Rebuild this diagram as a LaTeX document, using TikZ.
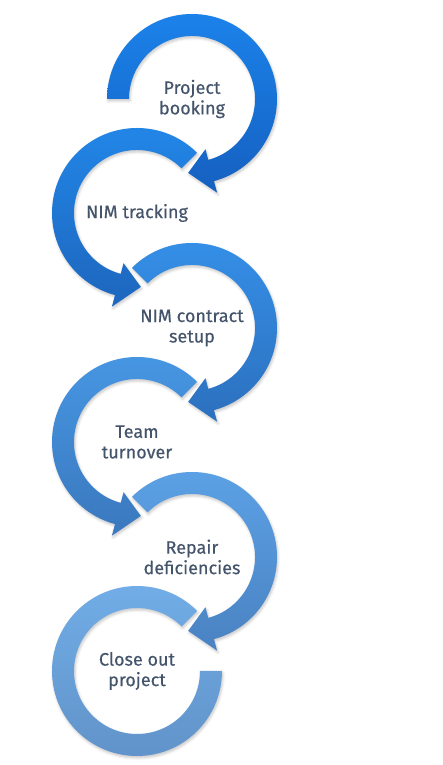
\documentclass[tikz,border=0pt]{standalone}
\usepackage{fontspec}
\setmainfont[FakeBold=0.4]{Fira Sans}
\usetikzlibrary{calc,shadows.blur}
\definecolor{textgray}{HTML}{44546A}
\definecolor{ringtopA}{HTML}{1B82EA}\definecolor{ringbotA}{HTML}{1560C0}
\definecolor{ringtopB}{HTML}{2287E8}\definecolor{ringbotB}{HTML}{1D66BE}
\definecolor{ringtopC}{HTML}{3590E8}\definecolor{ringbotC}{HTML}{2C70BE}
\definecolor{ringtopD}{HTML}{4797E4}\definecolor{ringbotD}{HTML}{3A78BE}
\definecolor{ringtopE}{HTML}{5CA2E6}\definecolor{ringbotE}{HTML}{4A82C2}
\definecolor{ringtopF}{HTML}{72AEE8}\definecolor{ringbotF}{HTML}{6092C8}
\tikzset{
  ringshadow/.style={blur shadow={shadow xshift=1pt, shadow yshift=-2pt, shadow blur radius=2.5pt, shadow opacity=22}},
  steplabel/.style={align=center, text=textgray, inner sep=0pt, font=\fontsize{18}{20.5}\selectfont}
}
\def\ringarrow[#1](#2)(#3:#4:#5){\shade[ringshadow,#1] ($(#2)+(#3:85)$) arc (#3:#4:85) -- ($(#2)+(#4:97)$) -- ($(#2)+(#5:74)$) -- ($(#2)+(#4:52)$) -- ($(#2)+(#4:63)$) arc (#4:#3:63) -- cycle;}
\def\ringopen[#1](#2)(#3:#4){\shade[ringshadow,#1] ($(#2)+(#3:85)$) arc (#3:#4:85) -- ($(#2)+(#4:63)$) arc (#4:#3:63) -- cycle;}
\begin{document}
\begin{tikzpicture}[x=1pt, y=1pt]
		%%%%% START %%%%%
		\useasboundingbox (0, 0) rectangle (443, 765);
		
		\coordinate (c1) at (192, 666);
		\coordinate (c2) at (137, 552);
		\coordinate (c3) at (192, 437);
		\coordinate (c4) at (137, 323);
		\coordinate (c5) at (192, 208);
		\coordinate (c6) at (137, 94);
		
		\ringarrow[top color=ringtopA, bottom color=ringbotA](c1)(180:-75:-93);
		\ringarrow[top color=ringtopB, bottom color=ringbotB](c2)(45:255:273);
		\ringarrow[top color=ringtopC, bottom color=ringbotC](c3)(135:-75:-93);
		\ringarrow[top color=ringtopD, bottom color=ringbotD](c4)(45:255:273);
		\ringarrow[top color=ringtopE, bottom color=ringbotE](c5)(135:-75:-93);
		\ringopen[top color=ringtopF, bottom color=ringbotF](c6)(45:360);
		
		\node[steplabel] (booking) at (c1) {Project\\booking};
		\node[steplabel] (tracking) at (c2) {NIM tracking};
		\node[steplabel] (contract) at (c3) {NIM contract\\setup};
		\node[steplabel] (turnover) at (c4) {Team\\turnover};
		\node[steplabel] (repair) at (c5) {Repair\\deficiencies};
		\node[steplabel] (closeout) at (c6) {Close out\\project};
		
		%%%%% END %%%%%
	\end{tikzpicture}
\end{document}
